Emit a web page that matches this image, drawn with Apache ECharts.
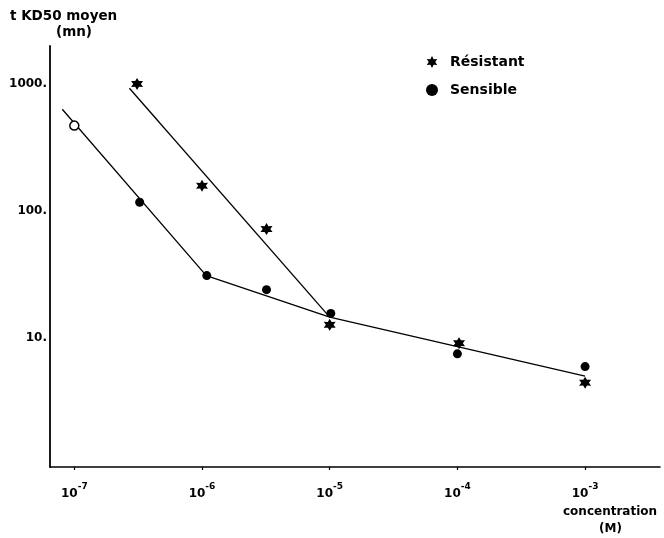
<!DOCTYPE html>
<html>
<head>
<meta charset="utf-8">
<script src="https://cdn.jsdelivr.net/npm/echarts@6/dist/echarts.min.js"></script>
<style>
html,body{margin:0;padding:0;background:#fff;}
#chart{width:664px;height:538px;}
</style>
</head>
<body>
<div id="chart"></div>
<script>
// ---- data ----
const resX = [3.1e-7, 1e-6, 3.2e-6, 1e-5, 1.03e-4, 1e-3];
const resY = [1000, 158, 72, 12.7, 9.1, 4.45];
const senX = [1e-7, 3.25e-7, 1.09e-6, 3.2e-6, 1.02e-5, 1e-4, 1e-3];
const senY = [470, 117, 31, 24, 15.6, 7.5, 5.95];
const fitResX = [2.7e-7, 1e-5];
const fitResY = [925, 14.6];
const fitSenX = [8.05e-8, 1.08e-6, 1e-5, 1e-3];
const fitSenY = [632, 31, 14.6, 5.0];
const xTicks = [1e-7, 1e-6, 1e-5, 1e-4, 1e-3];
const yTicks = [10, 100, 1000];
const seriesNames = ['Résistant', 'Sensible'];

const FONT = '"DejaVu Sans", sans-serif';
const STAR = 'path://M10 0L12.75 5.24L18.66 5L15.5 10L18.66 15L12.75 14.76L10 20L7.25 14.76L1.34 15L4.5 10L1.34 5L7.25 5.24Z';

const zip = (xs, ys) => xs.map((x, i) => [x, ys[i]]);
const senData = zip(senX, senY).map((p, i) => i === 0
  ? { value: p, itemStyle: { color: '#fff', borderColor: '#000', borderWidth: 1.5 } }
  : p);

const chart = echarts.init(document.getElementById('chart'), null, { renderer: 'canvas' });
chart.setOption({
  animation: false,
  backgroundColor: '#fff',
  grid: { left: 50, right: 4, top: 46, bottom: 71, containLabel: false },
  legend: {
    data: [
      { name: seriesNames[0], icon: STAR },
      { name: seriesNames[1], icon: 'circle' }
    ],
    orient: 'vertical',
    left: 421,
    top: 50,
    itemWidth: 12,
    itemHeight: 12,
    itemGap: 14,
    itemStyle: { opacity: 1 },
    textStyle: { fontFamily: FONT, fontWeight: 'bold', fontSize: 14, color: '#000', padding: [0, 0, 0, 7] }
  },
  xAxis: {
    type: 'log',
    logBase: 10,
    min: 6.45e-8,
    max: 3.86e-3,
    axisLine: { lineStyle: { color: '#000', width: 1.6 } },
    axisTick: { show: true, customValues: xTicks, length: 3, lineStyle: { color: '#000', width: 1.2 } },
    axisLabel: {
      customValues: xTicks,
      margin: 15,
      formatter: v => '{a|10}{b|' + Math.round(Math.log10(v)) + '}',
      rich: {
        a: { fontFamily: FONT, fontWeight: 'bold', fontSize: 12, color: '#000', lineHeight: 18, verticalAlign: 'bottom' },
        b: { fontFamily: FONT, fontWeight: 'bold', fontSize: 9, color: '#000', lineHeight: 18, verticalAlign: 'top' }
      }
    },
    splitLine: { show: false },
    minorTick: { show: false }
  },
  yAxis: {
    type: 'log',
    logBase: 10,
    min: 0.964,
    max: 1990,
    axisLine: { show: true, lineStyle: { color: '#000', width: 1.8 } },
    axisTick: { show: false },
    axisLabel: {
      customValues: yTicks,
      margin: 3,
      fontFamily: FONT,
      fontWeight: 'bold',
      fontSize: 12,
      color: '#000',
      formatter: v => Math.round(v) + '.'
    },
    splitLine: { show: false }
  },
  graphic: [
    { type: 'text', left: 10, top: 9, style: { text: 't KD50 moyen', font: 'bold 13.5px ' + FONT, fill: '#000' } },
    { type: 'text', left: 56, top: 25, style: { text: '(mn)', font: 'bold 13.5px ' + FONT, fill: '#000' } },
    { type: 'text', left: 563, top: 506, style: { text: 'concentration', font: 'bold 12px ' + FONT, fill: '#000' } },
    { type: 'text', left: 599, top: 523, style: { text: '(M)', font: 'bold 12px ' + FONT, fill: '#000' } }
  ],
  series: [
    {
      name: seriesNames[0], type: 'scatter', data: zip(resX, resY),
      symbol: STAR, symbolSize: 12, itemStyle: { color: '#000', opacity: 1 }, z: 5
    },
    {
      name: seriesNames[1], type: 'scatter', data: senData,
      symbol: 'circle', symbolSize: 9, itemStyle: { color: '#000', opacity: 1 }, z: 5
    },
    {
      name: 'fitRes', type: 'line', data: zip(fitResX, fitResY), symbol: 'none', silent: true,
      lineStyle: { color: '#000', width: 1.3 }, z: 3
    },
    {
      name: 'fitSen', type: 'line', data: zip(fitSenX, fitSenY), symbol: 'none', silent: true,
      lineStyle: { color: '#000', width: 1.3 }, z: 3
    }
  ]
});
</script>
</body>
</html>
